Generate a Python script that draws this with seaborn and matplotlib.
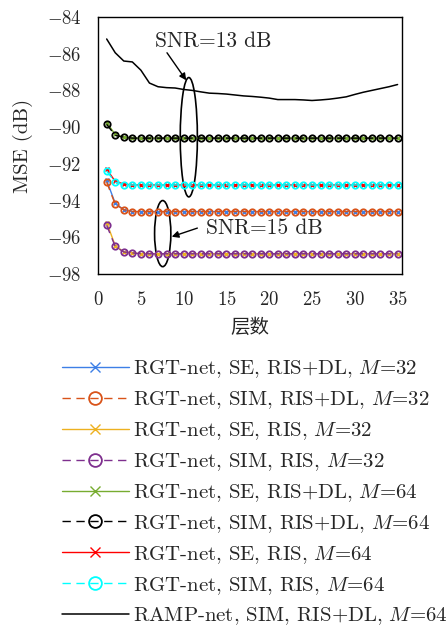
import pandas as pd
import seaborn as sns
import matplotlib.pyplot as plt
from matplotlib.patches import Ellipse

sns.set_style("white")
plt.rcParams['font.family'] = ['cmr10', 'Noto Sans CJK SC']
plt.rcParams['mathtext.fontset'] = 'cm'
plt.rcParams['axes.formatter.use_mathtext'] = True

# Данные
layers = list(range(1, 36))
m32_risdl = [-93.0, -94.2, -94.5] + [-94.6] * 32
m32_risdl_se = [-92.9, -94.15, -94.5] + [-94.6] * 32
m32_ris = [-95.35, -96.5, -96.8, -96.85] + [-96.9] * 31
m32_ris_se = [-95.2, -96.45, -96.8, -96.85] + [-96.9] * 31
m64_risdl = [-89.85, -90.45, -90.55] + [-90.6] * 32
m64_risdl_se = [-89.75, -90.4, -90.55] + [-90.6] * 32
m64_ris = [-92.4, -93.0, -93.15] + [-93.15] * 32
m64_ris_se = [-92.3, -92.95, -93.1] + [-93.15] * 32
ramp = [-85.2, -85.95, -86.4, -86.45, -86.9, -87.6, -87.8, -87.85, -87.87, -87.95,
        -88.0, -88.08, -88.15, -88.17, -88.2, -88.25, -88.3, -88.33, -88.37, -88.42,
        -88.5, -88.5, -88.5, -88.52, -88.55, -88.52, -88.48, -88.42, -88.35, -88.22,
        -88.1, -88.0, -87.9, -87.8, -87.68]

labels = [
    r"RGT-net, SE, RIS+DL, $M$=32",
    r"RGT-net, SIM, RIS+DL, $M$=32",
    r"RGT-net, SE, RIS, $M$=32",
    r"RGT-net, SIM, RIS, $M$=32",
    r"RGT-net, SE, RIS+DL, $M$=64",
    r"RGT-net, SIM, RIS+DL, $M$=64",
    r"RGT-net, SE, RIS, $M$=64",
    r"RGT-net, SIM, RIS, $M$=64",
    r"RAMP-net, SIM, RIS+DL, $M$=64",
]
series = [m32_risdl_se, m32_risdl, m32_ris_se, m32_ris,
          m64_risdl_se, m64_risdl, m64_ris_se, m64_ris, ramp]
colors = ['#3d7fe6', '#d95319', '#edb120', '#7e2f8e',
          '#77ac30', 'black', 'red', 'cyan', 'black']

fig = plt.figure(figsize=(4.48, 6.28), dpi=100)
ax = fig.add_axes([0.219, 0.5637, 0.678, 0.4093])

handles = []
for i, (vals, col, lab) in enumerate(zip(series, colors, labels)):
    df = pd.DataFrame({"层数": layers, "MSE": vals})
    sns.lineplot(data=df, x="层数", y="MSE", color=col, ax=ax, legend=False)
    ln = ax.lines[-1]
    ln.set_label(lab)
    ln.set_linewidth(1.0)
    ln.set_markeredgecolor(col)
    if i == 8:
        ln.set_linestyle('-')
        ln.set_linewidth(1.1)
    elif i % 2 == 0:
        ln.set_linestyle('-')
        ln.set_marker('x')
        ln.set_markersize(3.5)
        ln.set_markeredgewidth(1.0)
    else:
        ln.set_linestyle((0, (6, 4)))
        ln.set_marker('o')
        ln.set_markersize(4.6)
        ln.set_markerfacecolor('none')
        ln.set_markeredgewidth(1.3)
    handles.append(ln)

ax.set_xlim(0, 35.5)
ax.set_ylim(-98, -84)
ax.set_xticks([0, 5, 10, 15, 20, 25, 30, 35])
ax.set_yticks([-98, -96, -94, -92, -90, -88, -86, -84])
ax.tick_params(labelsize=13.5, direction='in', length=3, pad=12)
ax.set_xlabel("层数", fontsize=14, family=['Noto Sans CJK SC'], labelpad=6)
ax.set_ylabel("MSE (dB)", fontsize=15, labelpad=10)
for s in ax.spines.values():
    s.set_color('black')
    s.set_linewidth(1.0)

ax.add_patch(Ellipse((10.6, -90.55), 2.0, 6.5, fill=False, lw=1.2, ec='black'))
ax.add_patch(Ellipse((7.55, -95.8), 1.9, 3.6, fill=False, lw=1.2, ec='black'))
ax.text(13.5, -85.35, "SNR=13 dB", fontsize=15.5, ha='center', va='center')
ax.text(19.4, -95.5, "SNR=15 dB", fontsize=15.5, ha='center', va='center')
ax.annotate("", xy=(10.3, -87.45), xytext=(8.05, -85.95),
            arrowprops=dict(arrowstyle='-|>', color='black', lw=1.0,
                            shrinkA=0, shrinkB=0))
ax.annotate("", xy=(8.6, -95.97), xytext=(11.6, -95.5),
            arrowprops=dict(arrowstyle='-|>', color='black', lw=1.0,
                            shrinkA=0, shrinkB=0))

fig.legend(handles=handles, loc='upper left', bbox_to_anchor=(0.12, 0.443),
           frameon=False, fontsize=15, handlelength=3.2, handletextpad=0.2,
           labelspacing=0.44, borderaxespad=0, markerscale=2.0)

fig.savefig("out.png", dpi=100)
